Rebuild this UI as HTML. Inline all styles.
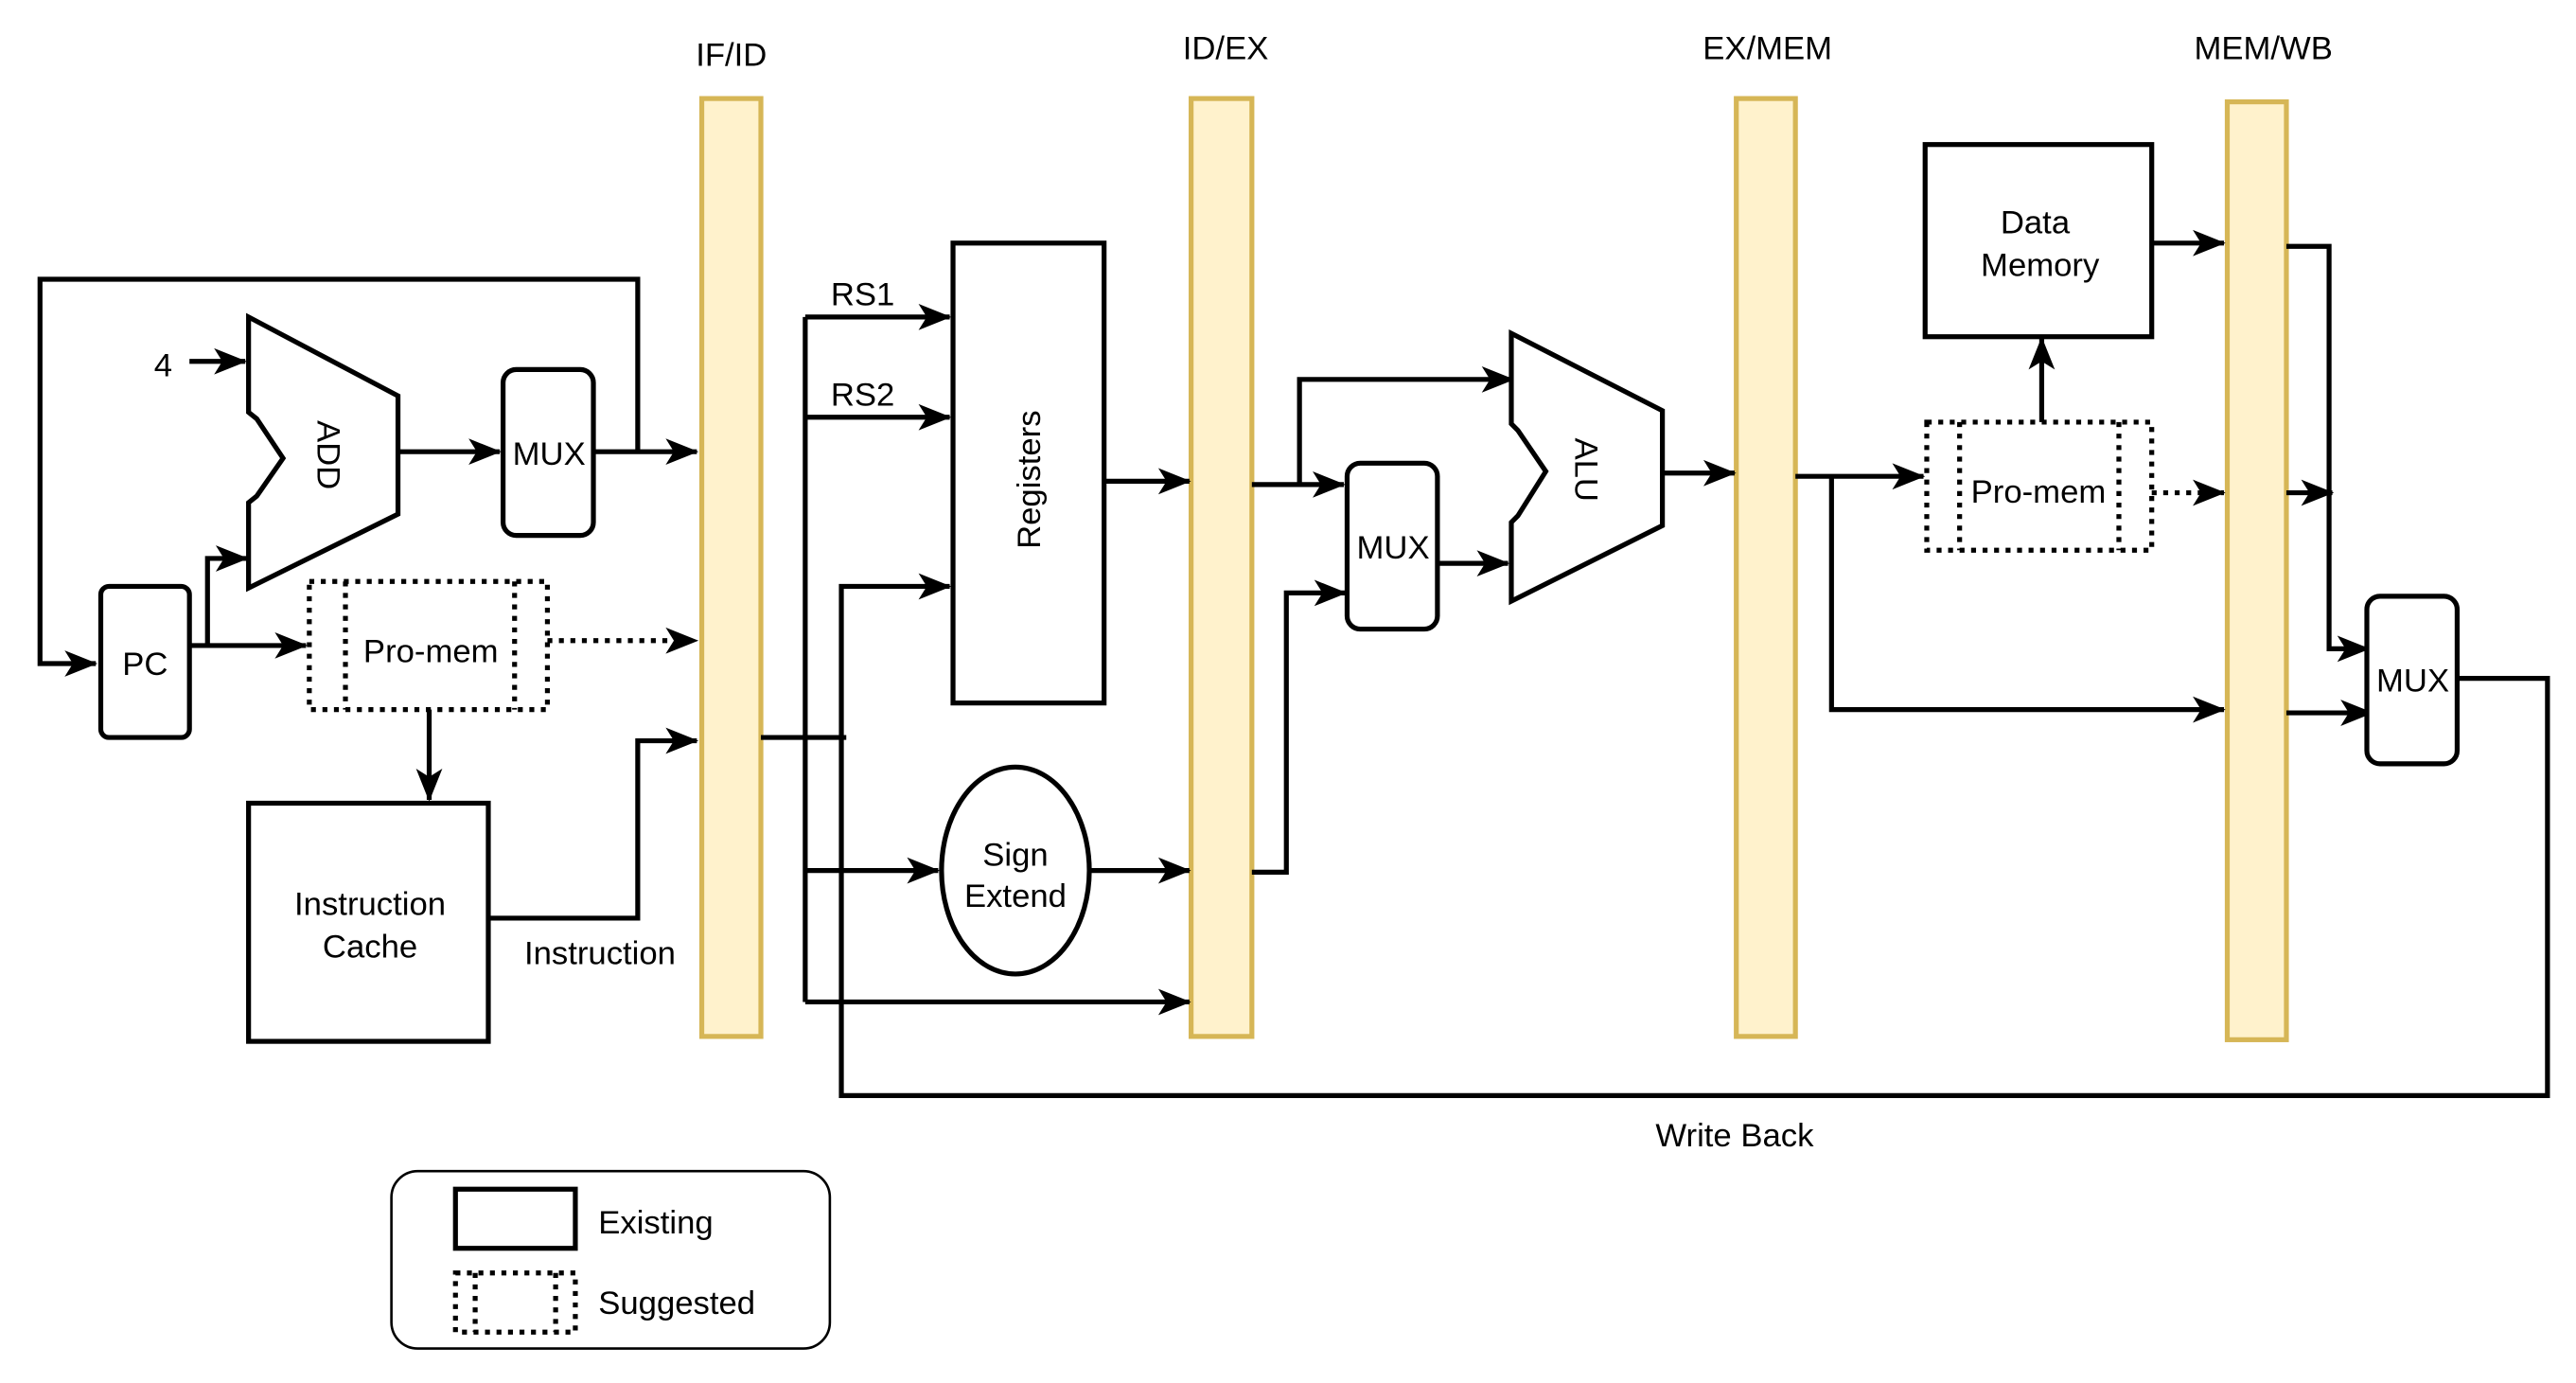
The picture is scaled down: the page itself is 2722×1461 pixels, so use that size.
<!DOCTYPE html>
<html><head><meta charset="utf-8"><style>html,body{margin:0;padding:0;background:#fff}svg{display:block}</style></head>
<body>
<svg width="2722" height="1461" viewBox="0 0 1568 842" xmlns="http://www.w3.org/2000/svg" font-family="Liberation Sans, sans-serif" font-size="20">
<defs>
<marker id="a" viewBox="0 0 20 16" refX="19" refY="8" markerWidth="20" markerHeight="16" markerUnits="userSpaceOnUse" orient="auto" overflow="visible">
<path d="M0,0 L20,8 L0,16 L5,8 Z" fill="#000"/>
</marker>
</defs>
<rect width="1568" height="842" fill="#fff"/>
<g fill="#fff2cc" stroke="#d6b656" stroke-width="3">
<rect x="427" y="60" width="36" height="571"/>
<rect x="725" y="60" width="37" height="571"/>
<rect x="1057" y="60" width="36" height="571"/>
<rect x="1356" y="62" width="36" height="571"/>
</g>
<g text-anchor="middle" fill="#000">
<text x="445" y="40">IF/ID</text>
<text x="746" y="36">ID/EX</text>
<text x="1076" y="36">EX/MEM</text>
<text x="1378" y="36">MEM/WB</text>
</g>
<g fill="none" stroke="#000" stroke-width="3">
<path d="M388,275 V170 H24 V404 H58" marker-end="url(#a)"/>
<rect x="61" y="357" width="54" height="92" rx="5" fill="#fff"/>
<path d="M115,220 H149" marker-end="url(#a)"/>
<path d="M151,193 L242,241 L242,313 L151,358 L151,306 L156,302 L172,279 L156,255 L151,251 Z" fill="#fff"/>
<path d="M242,275 H304" marker-end="url(#a)"/>
<rect x="306" y="225" width="55" height="101" rx="8" fill="#fff"/>
<path d="M361,275 H424" marker-end="url(#a)"/>
<path d="M115,393 H186" marker-end="url(#a)"/>
<path d="M126,393 V340 H150" marker-end="url(#a)"/>
<g stroke-dasharray="3,4">
<rect x="188" y="354" width="145" height="78"/>
<path d="M210,354 V432 M313,354 V432"/>
<path d="M333,390 H424" marker-end="url(#a)"/>
</g>
<path d="M261,432 V487" marker-end="url(#a)"/>
<rect x="151" y="489" width="146" height="145"/>
<path d="M297,559 H388 V451 H424" marker-end="url(#a)"/>
<path d="M463,449 H515"/>
<path d="M490,193 V610"/>
<path d="M490,193 H578" marker-end="url(#a)"/>
<path d="M490,254 H578" marker-end="url(#a)"/>
<path d="M490,530 H571" marker-end="url(#a)"/>
<path d="M490,610 H724" marker-end="url(#a)"/>
<path d="M1497,413 H1551 V667 H512 V357 H578" marker-end="url(#a)"/>
<rect x="580" y="148" width="92" height="280"/>
<path d="M672,293 H724" marker-end="url(#a)"/>
<ellipse cx="618" cy="530" rx="45" ry="63"/>
<path d="M663,530 H724" marker-end="url(#a)"/>
<path d="M762,295 H818" marker-end="url(#a)"/>
<path d="M791,295 V231 H921" marker-end="url(#a)"/>
<path d="M762,531 H783 V361 H819" marker-end="url(#a)"/>
<rect x="820" y="282" width="55" height="101" rx="8" fill="#fff"/>
<path d="M875,343 H918" marker-end="url(#a)"/>
<path d="M920,203 L1012,250 L1012,320 L920,366 L920,318 L924,314 L941,287 L924,262 L920,258 Z" fill="#fff"/>
<path d="M1012,288 H1056" marker-end="url(#a)"/>
<path d="M1093,290 H1171" marker-end="url(#a)"/>
<path d="M1115,290 V432 H1354" marker-end="url(#a)"/>
<g stroke-dasharray="3,4">
<rect x="1173" y="257" width="137" height="78"/>
<path d="M1193,257 V335 M1290,257 V335"/>
<path d="M1310,300 H1354" marker-end="url(#a)"/>
</g>
<path d="M1243,257 V206" marker-end="url(#a)"/>
<rect x="1172" y="88" width="138" height="117"/>
<path d="M1310,148 H1354" marker-end="url(#a)"/>
<path d="M1392,150 H1418 V395 H1442" marker-end="url(#a)"/>
<path d="M1392,300 H1420" marker-end="url(#a)"/>
<path d="M1392,434 H1444" marker-end="url(#a)"/>
<rect x="1441" y="363" width="55" height="102" rx="8" fill="#fff"/>
<rect x="238" y="713" width="267" height="108" rx="16" stroke-width="1.5"/>
<rect x="277" y="724" width="73" height="36"/>
<g stroke-dasharray="3,4">
<rect x="277" y="775" width="73" height="36"/>
<path d="M289,775 V811 M338,775 V811"/>
</g>
</g>
<g fill="#000" text-anchor="middle">
<text x="99" y="229">4</text>
<text x="88" y="411">PC</text>
<text x="200" y="277" transform="rotate(90 200 277)" dy="7">ADD</text>
<text x="334" y="283">MUX</text>
<text x="262" y="403">Pro-mem</text>
<text x="225" y="557">Instruction</text>
<text x="225" y="583">Cache</text>
<text x="365" y="587">Instruction</text>
<text x="525" y="186">RS1</text>
<text x="525" y="247">RS2</text>
<text x="626" y="292" transform="rotate(-90 626 292)" dy="7">Registers</text>
<text x="618" y="527">Sign</text>
<text x="618" y="552">Extend</text>
<text x="848" y="340">MUX</text>
<text x="966" y="286" transform="rotate(90 966 286)" dy="7">ALU</text>
<text x="1241" y="306">Pro-mem</text>
<text x="1239" y="142">Data</text>
<text x="1242" y="168">Memory</text>
<text x="1469" y="421">MUX</text>
<text x="1056" y="698">Write Back</text>
</g>
<g fill="#000">
<text x="364" y="751">Existing</text>
<text x="364" y="800">Suggested</text>
</g>
</svg>
</body></html>
